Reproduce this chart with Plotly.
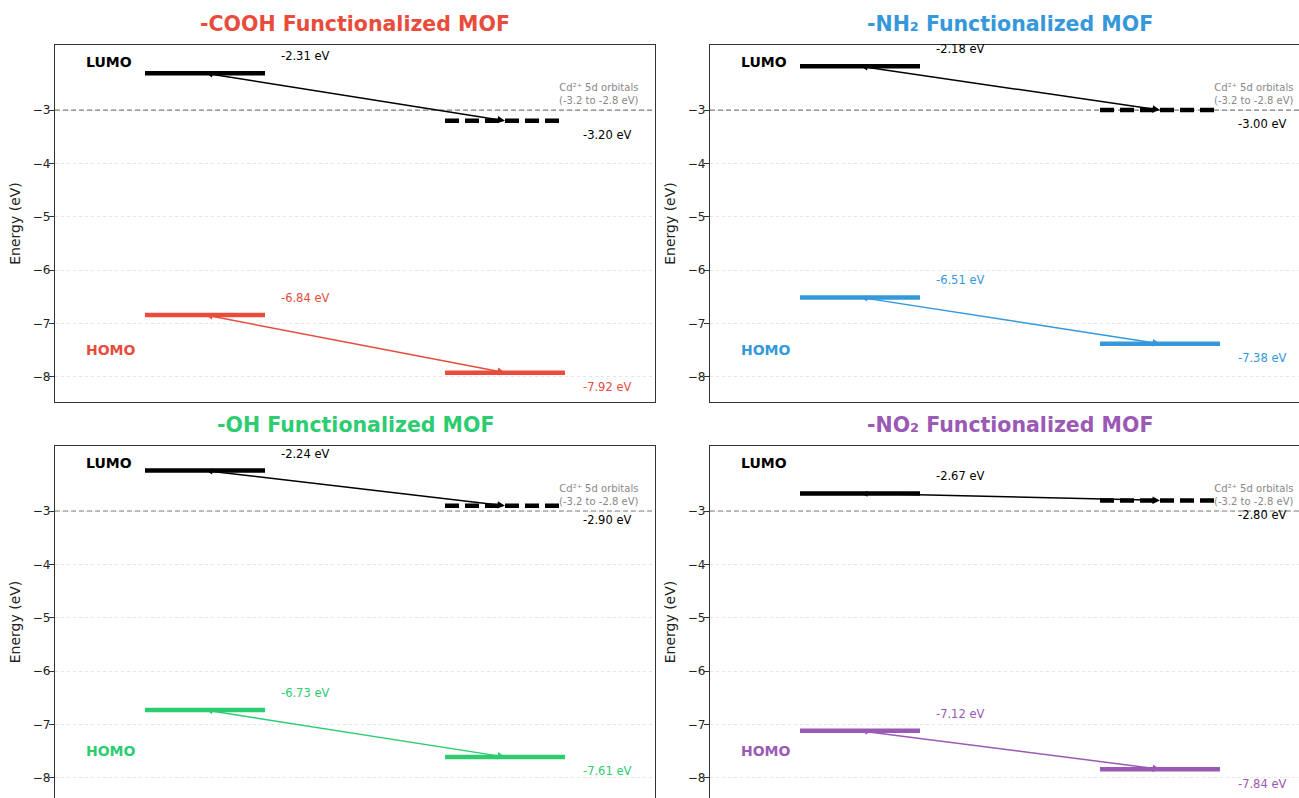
import plotly.graph_objects as go

# ---- data ----
titles = ["-COOH Functionalized MOF", "-NH₂ Functionalized MOF",
          "-OH Functionalized MOF", "-NO₂ Functionalized MOF"]
colors = ["#e74c3c", "#3498db", "#2ecc71", "#9b59b6"]
mof_lumo = [-2.31, -2.18, -2.24, -2.67]
mof_homo = [-6.84, -6.51, -6.73, -7.12]
cd_lumo = [-3.20, -3.00, -2.90, -2.80]
cd_homo = [-7.92, -7.38, -7.61, -7.84]
ytick_vals = [-8, -7, -6, -5, -4, -3]
cd_band_ref = -3.0
cd_label = "Cd²⁺ 5d orbitals<br>(-3.2 to -2.8 eV)"

W, H = 1299, 798
FONT = "DejaVu Sans"

def fx(px):
    return px / W

def fy(py):
    return 1 - py / H

# panel geometry (window pixels): left, right, top, bottom
panels = [
    dict(l=55, r=655, t=45, b=402, xr=[0, 1], yr=[-8.47, -1.78], col=0, row=0),
    dict(l=710, r=1299, t=45, b=402, xr=[0, 589 / 600], yr=[-8.47, -1.78], col=1, row=0),
    dict(l=55, r=655, t=446, b=798, xr=[0, 1], yr=[-8.38, -1.78], col=0, row=1),
    dict(l=710, r=1299, t=446, b=798, xr=[0, 589 / 600], yr=[-8.38, -1.78], col=1, row=1),
]

fig = go.Figure()
annotations = []
layout = {}

for i, p in enumerate(panels):
    n = "" if i == 0 else str(i + 1)
    xa, ya = "x" + n, "y" + n
    c = colors[i]
    full_frame_x = p["row"] == 0
    layout["xaxis" + n] = dict(
        domain=[fx(p["l"]), fx(p["r"])], range=p["xr"], anchor=ya,
        showticklabels=False, ticks="", showgrid=False, zeroline=False,
        showline=True, linecolor="#333", linewidth=1.2,
        mirror=True if full_frame_x else False,
        side="bottom" if full_frame_x else "top", fixedrange=True)
    layout["yaxis" + n] = dict(
        domain=[fy(p["b"]), fy(p["t"])], range=p["yr"], anchor=xa,
        tickvals=ytick_vals, ticks="outside", ticklen=5, tickcolor="#333",
        ticklabelstandoff=-4,
        tickfont=dict(family=FONT, size=12, color="#222"),
        showgrid=True, gridcolor="#e6e6e6", griddash="dot", gridwidth=1,
        zeroline=False, showline=True, linecolor="#333", linewidth=1.2,
        mirror=True if p["col"] == 0 else False,
        title=dict(text="Energy (eV)", font=dict(family=FONT, size=14, color="#222"),
                   standoff=8), fixedrange=True)

    # Cd reference dashed line
    fig.add_trace(go.Scatter(x=[p["xr"][0], 1], y=[cd_band_ref, cd_band_ref], xaxis=xa, yaxis=ya,
                             mode="lines", line=dict(color="#7f7f7f", width=1.1, dash="5px,3px"),
                             hoverinfo="skip", showlegend=False))
    # MOF levels
    fig.add_trace(go.Scatter(x=[0.15, 0.35], y=[mof_lumo[i]] * 2, xaxis=xa, yaxis=ya,
                             mode="lines", line=dict(color="black", width=4.5),
                             hoverinfo="skip", showlegend=False))
    fig.add_trace(go.Scatter(x=[0.15, 0.35], y=[mof_homo[i]] * 2, xaxis=xa, yaxis=ya,
                             mode="lines", line=dict(color=c, width=4.5),
                             hoverinfo="skip", showlegend=False))
    # Cd levels
    fig.add_trace(go.Scatter(x=[0.65, 0.85], y=[cd_lumo[i]] * 2, xaxis=xa, yaxis=ya,
                             mode="lines", line=dict(color="black", width=4.5, dash="14px,6px"),
                             hoverinfo="skip", showlegend=False))
    fig.add_trace(go.Scatter(x=[0.65, 0.85], y=[cd_homo[i]] * 2, xaxis=xa, yaxis=ya,
                             mode="lines", line=dict(color=c, width=4.5),
                             hoverinfo="skip", showlegend=False))

    # arrows
    for y0, y1, ac in [(mof_lumo[i], cd_lumo[i], "black"), (mof_homo[i], cd_homo[i], c)]:
        annotations.append(dict(x=0.75, y=y1, ax=0.25, ay=y0, xref=xa, yref=ya,
                                axref=xa, ayref=ya, showarrow=True, text="",
                                arrowhead=2, arrowsize=1, arrowwidth=1.5, arrowcolor=ac,
                                arrowside="end+start", startarrowhead=2, startarrowsize=0.8,
                                standoff=0, startstandoff=0))

    # value labels
    def lab(x, y, txt, col, anchor):
        annotations.append(dict(x=x, y=y, xref=xa, yref=ya, text=txt, showarrow=False,
                                xanchor="left", yanchor=anchor,
                                font=dict(family=FONT, size=11.5, color=col)))
    lab(0.373, mof_lumo[i] + 0.15, f"{mof_lumo[i]:.2f} eV", "black", "bottom")
    lab(0.373, mof_homo[i] + 0.15, f"{mof_homo[i]:.2f} eV", c, "bottom")
    lab(0.876, cd_lumo[i] - 0.1, f"{cd_lumo[i]:.2f} eV", "black", "top")
    lab(0.876, cd_homo[i] - 0.1, f"{cd_homo[i]:.2f} eV", c, "top")

    # LUMO / HOMO labels
    annotations.append(dict(x=0.048, y=-2.1, xref=xa, yref=ya, text="<b>LUMO</b>", showarrow=False,
                            xanchor="left", yanchor="middle",
                            font=dict(family=FONT, size=14, color="black")))
    annotations.append(dict(x=0.048, y=-7.5, xref=xa, yref=ya, text="<b>HOMO</b>", showarrow=False,
                            xanchor="left", yanchor="middle",
                            font=dict(family=FONT, size=14, color=c)))
    # Cd band label
    annotations.append(dict(x=0.975, y=-2.96, xref=xa, yref=ya, text=cd_label, showarrow=False,
                            xanchor="right", yanchor="bottom", align="right",
                            font=dict(family=FONT, size=10, color="#888")))
    # subplot title
    annotations.append(dict(x=fx(p["l"] + 300), y=fy(p["t"] - 7),
                            xref="paper", yref="paper", text=f"<b>{titles[i]}</b>",
                            showarrow=False, xanchor="center", yanchor="bottom",
                            font=dict(family=FONT, size=20.5, color=c)))

fig.update_layout(width=W, height=H, margin=dict(l=0, r=0, t=0, b=0),
                  paper_bgcolor="white", plot_bgcolor="white",
                  annotations=annotations, showlegend=False, **layout)

fig.write_html("out.html", config={"displayModeBar": False},
               post_script="document.body.style.margin='0px';document.body.style.overflow='hidden';")
